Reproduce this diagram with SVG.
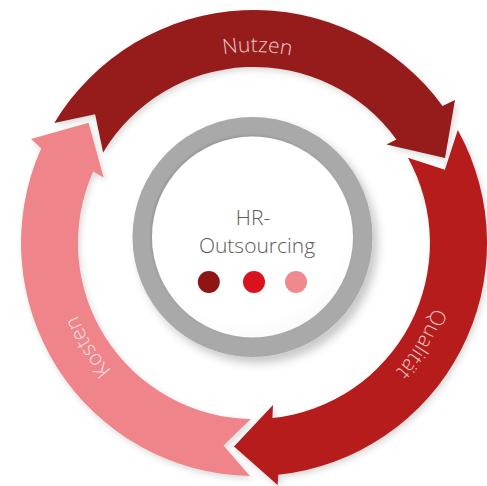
<svg xmlns="http://www.w3.org/2000/svg" width="487" height="486" viewBox="0 0 487 486">
  <defs>
    <style>
      .lbl { font-family: "Open Sans", "Liberation Sans", sans-serif; font-size: 21px; font-weight: 300; }
      .ctr { font-family: "Open Sans", "Liberation Sans", sans-serif; font-size: 21px; font-weight: 300; fill: #5a5a5a; text-anchor: middle; }
    </style>
    <filter id="sh" x="-20%" y="-20%" width="140%" height="140%">
      <feDropShadow dx="2" dy="3" stdDeviation="3" flood-color="#000" flood-opacity="0.15"/>
    </filter>
    <filter id="shRing" x="-20%" y="-20%" width="150%" height="150%">
      <feDropShadow dx="5" dy="6" stdDeviation="5" flood-color="#000" flood-opacity="0.22"/>
    </filter>
    <filter id="inset" x="-10%" y="-10%" width="120%" height="120%">
      <feDropShadow dx="-1" dy="-1" stdDeviation="1.5" flood-color="#000" flood-opacity="0.15"/>
    </filter>
    <radialGradient id="white" cx="0.45" cy="0.4" r="0.65">
      <stop offset="0" stop-color="#ffffff"/>
      <stop offset="0.8" stop-color="#ffffff"/>
      <stop offset="1" stop-color="#f8f8f8"/>
    </radialGradient>
    <path id="pN" d="M133.8,94.6 A191,191 0 0 1 379.3,98.8"/>
    <path id="pQ" d="M442.6,213.1 A191,191 0 0 1 316.2,423.6"/>
    <path id="pK" d="M195.0,424.7 A191,191 0 0 1 64.9,216.4"/>
  </defs>

  <g id="arrow-nutzen">
    <path filter="url(#sh)" fill="#961a1a" d="M54.3,123.0 L95.1,114.3 L103.1,152.4 A176,176 0 0 1 396.4,139.5 L386.5,144.5 L445,158 L455,100.1 L442.5,106.0 A233,233 0 0 0 54.3,123.0 Z"/>
    <text class="lbl" fill="#ecc9c9" text-anchor="middle"><textPath href="#pN" startOffset="50%">Nutzen</textPath></text>
  </g>

  <g id="arrow-qualitaet">
    <path filter="url(#sh)" fill="#b71a1d" d="M457.8,130.0 L444.9,169.7 L407.9,157.7 A176,176 0 0 1 272.4,418.0 L273,405 L234,446.5 L277.6,485 L278.3,474.7 A233,233 0 0 0 457.8,130.0 Z"/>
    <text class="lbl" fill="#f1c6c6" text-anchor="middle"><textPath href="#pQ" startOffset="50%">Qualität</textPath></text>
  </g>

  <g id="arrow-kosten">
    <path filter="url(#sh)" fill="#ef858b" d="M249.9,476.0 L223.5,445.5 L250.9,419.0 A176,176 0 0 1 93.2,171.4 L103.6,177.6 L88.6,122.8 L31,139 L41.2,148.2 A233,233 0 0 0 249.9,476.0 Z"/>
    <text class="lbl" fill="#fbe1e3" text-anchor="middle"><textPath href="#pK" startOffset="50%">Kosten</textPath></text>
  </g>

  <g id="center">
    <circle cx="252.5" cy="237" r="120" fill="#a9a9a9" filter="url(#shRing)"/>
    <circle cx="252.5" cy="237" r="100.5" fill="url(#white)" filter="url(#inset)"/>
    <text class="ctr" x="253" y="225">HR-</text>
    <text class="ctr" x="257" y="253">Outsourcing</text>
    <circle cx="208.8" cy="282" r="11" fill="#8f1515"/>
    <circle cx="254" cy="282" r="11" fill="#d9121d"/>
    <circle cx="296" cy="282" r="11" fill="#f0898e"/>
  </g>
</svg>
